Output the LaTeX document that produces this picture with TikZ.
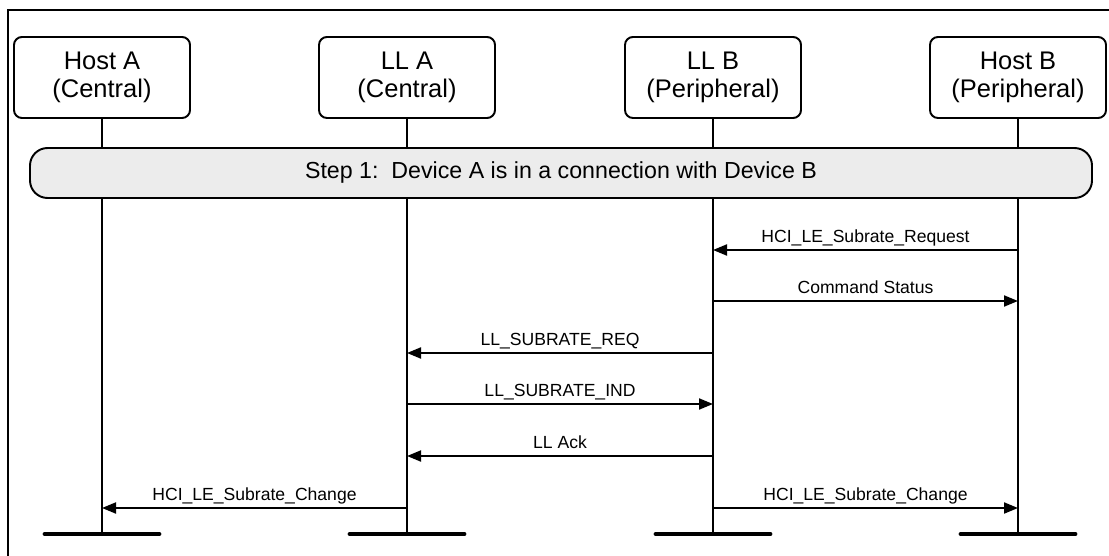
\documentclass[tikz,border=0pt]{standalone}
\usepackage{fontspec}
\setmainfont{Liberation Sans}
\usetikzlibrary{arrows.meta}

\begin{document}
\begin{tikzpicture}[
            actor/.style={draw, line width=1.1pt, rounded corners=4.5pt,
                        minimum width=3.52cm, minimum height=1.62cm, align=center,
                        font=\fontsize{14.5}{16}\selectfont},
            life/.style={line width=1.1pt},
            foot/.style={line width=2.8pt, line cap=round},
            stepbar/.style={draw, line width=1.1pt, fill=gray!15, rounded corners=10pt,
                        minimum width=21.24cm, minimum height=1.0cm,
                        font=\fontsize{13.2}{15}\selectfont},
            msg/.style={-{Triangle[length=2.8mm, width=2.2mm]}, line width=1.1pt},
            lab/.style={font=\fontsize{10}{12}\selectfont, anchor=base,
                        yshift=1.5mm, inner sep=0pt}
        ]

        \useasboundingbox (0,0) rectangle (22.18,-11.12);
        \draw[line width=1.1pt] (0.16,-0.2) rectangle (22.6,-11.6);

        % Nodes
        \node[actor] (hosta) at (2.04,-1.55) {Host A\\(Central)};
        \node[actor] (lla) at (8.14,-1.55) {LL A\\(Central)};
        \node[actor] (llb) at (14.26,-1.55) {LL B\\(Peripheral)};
        \node[actor] (hostb) at (20.36,-1.55) {Host B\\(Peripheral)};

        % Lifeline ends
        \coordinate (hostaend) at (2.04,-10.68);
        \coordinate (llaend) at (8.14,-10.68);
        \coordinate (llbend) at (14.26,-10.68);
        \coordinate (hostbend) at (20.36,-10.68);

        \draw[life] (hosta.south) -- (hostaend);
        \draw[life] (lla.south) -- (llaend);
        \draw[life] (llb.south) -- (llbend);
        \draw[life] (hostb.south) -- (hostbend);

        \draw[foot] ([xshift=-1.14cm]hostaend) -- ([xshift=1.14cm]hostaend);
        \draw[foot] ([xshift=-1.14cm]llaend) -- ([xshift=1.14cm]llaend);
        \draw[foot] ([xshift=-1.14cm]llbend) -- ([xshift=1.14cm]llbend);
        \draw[foot] ([xshift=-1.14cm]hostbend) -- ([xshift=1.14cm]hostbend);

        % Step bar
        \node[stepbar] (step) at (11.22,-3.46)
            {Step 1:\ \ Device A is in a connection with Device B};

        % Message rows
        \coordinate (r1) at (0,-5.0);
        \coordinate (r2) at (0,-6.02);
        \coordinate (r3) at (0,-7.06);
        \coordinate (r4) at (0,-8.08);
        \coordinate (r5) at (0,-9.12);
        \coordinate (r6) at (0,-10.16);

        % Messages
        \draw[msg] (hostb |- r1) -- node[lab] {HCI\_LE\_Subrate\_Request} (llb |- r1);
        \draw[msg] (llb |- r2) -- node[lab] {Command Status} (hostb |- r2);
        \draw[msg] (llb |- r3) -- node[lab] {LL\_SUBRATE\_REQ} (lla |- r3);
        \draw[msg] (lla |- r4) -- node[lab] {LL\_SUBRATE\_IND} (llb |- r4);
        \draw[msg] (llb |- r5) -- node[lab] {LL Ack} (lla |- r5);
        \draw[msg] (lla |- r6) -- node[lab] {HCI\_LE\_Subrate\_Change} (hosta |- r6);
        \draw[msg] (llb |- r6) -- node[lab] {HCI\_LE\_Subrate\_Change} (hostb |- r6);

        \end{tikzpicture}
\end{document}
